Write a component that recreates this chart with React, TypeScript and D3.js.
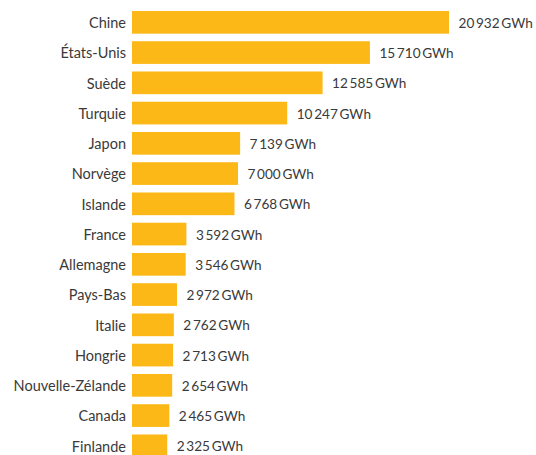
import React from "react";
import * as d3 from "d3";

const categories = ["Chine", "États-Unis", "Suède", "Turquie", "Japon", "Norvège", "Islande", "France", "Allemagne", "Pays-Bas", "Italie", "Hongrie", "Nouvelle-Zélande", "Canada", "Finlande"];
const values = [20932, 15710, 12585, 10247, 7139, 7000, 6768, 3592, 3546, 2972, 2762, 2713, 2654, 2465, 2325];
const unit = "GWh";

const W = 536;
const H = 455;
const left = 132;
const fr = d3.formatLocale({ decimal: ",", thousands: "\u2009", grouping: [3], currency: ["", " €"] });
const fmt = fr.format(",d");

export default function App() {
  const x = d3.scaleLinear().domain([0, 20932]).range([left, 449]);
  const y = d3
    .scaleBand<string>()
    .domain(categories)
    .range([7.2, 7.2 + 30.25 * 15])
    .paddingInner(0.25)
    .paddingOuter(0.125);
  const font = "Lato, 'Open Sans', sans-serif";
  return (
    <svg
      width={W}
      height={H}
      style={{ position: "absolute", left: 0, top: 0, overflow: "hidden", background: "#fff" }}
    >
      {categories.map((c, i) => {
        const yy = y(c)!;
        const bw = y.bandwidth();
        return (
          <g key={c}>
            <text
              x={left - 6}
              y={yy + bw / 2}
              dy="0.4em"
              textAnchor="end"
              fontFamily={font}
              fontSize={14.5}
              fill="#3a3a3a"
            >
              {c}
            </text>
            <rect x={x(0)} y={yy} width={x(values[i]) - x(0)} height={bw} fill="#FBB817" />
            <text
              x={x(values[i]) + 9.5}
              y={yy + bw / 2}
              dy="0.4em"
              fontFamily={font}
              fontSize={13.6}
              fill="#3a3a3a"
            >
              {fmt(values[i]) + "\u2009" + unit}
            </text>
          </g>
        );
      })}
    </svg>
  );
}
